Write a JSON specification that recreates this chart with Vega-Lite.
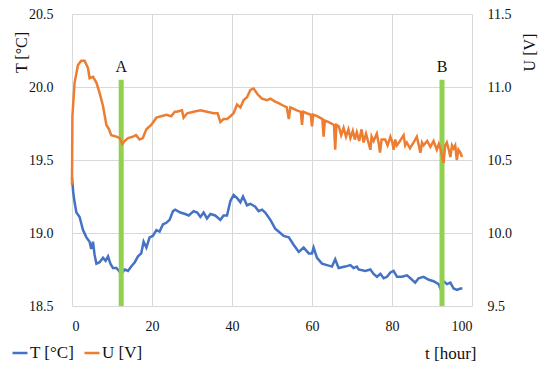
{
  "$schema": "https://vega.github.io/schema/vega-lite/v6.json",
  "width": 400,
  "height": 292,
  "autosize": {"type": "none"},
  "padding": {"left": 72, "top": 14, "right": 78, "bottom": 64},
  "background": "white",
  "config": {
    "view": {"stroke": null},
    "font": "Liberation Serif",
    "axis": {
      "grid": true,
      "gridColor": "#d9d9d9",
      "gridWidth": 1,
      "domain": false,
      "ticks": false,
      "labelFont": "Liberation Serif",
      "labelFontSize": 13,
      "labelColor": "#111",
      "titleFont": "Liberation Serif",
      "titleFontSize": 15,
      "titleFontWeight": "normal",
      "titleColor": "#111"
    },
    "legend": {
      "labelFont": "Liberation Serif",
      "labelFontSize": 17,
      "labelColor": "#111"
    }
  },
  "datasets": {
    "T": [
      {"t": 0, "v": 19.38}, {"t": 0.3, "v": 19.28}, {"t": 0.65, "v": 19.21}, {"t": 1.1, "v": 19.14},
      {"t": 1.9, "v": 19.11}, {"t": 2.75, "v": 19.02}, {"t": 3.6, "v": 18.97}, {"t": 4.4, "v": 18.94},
      {"t": 4.8, "v": 18.89}, {"t": 5.25, "v": 18.94}, {"t": 5.65, "v": 18.85}, {"t": 6.1, "v": 18.79},
      {"t": 6.9, "v": 18.8}, {"t": 7.75, "v": 18.83}, {"t": 8.4, "v": 18.81}, {"t": 9.0, "v": 18.84},
      {"t": 9.6, "v": 18.79}, {"t": 10.25, "v": 18.76}, {"t": 11.1, "v": 18.76}, {"t": 11.75, "v": 18.74},
      {"t": 12.3, "v": 18.72}, {"t": 13.2, "v": 18.75}, {"t": 14.0, "v": 18.74}, {"t": 14.8, "v": 18.77},
      {"t": 15.7, "v": 18.8}, {"t": 16.5, "v": 18.84}, {"t": 17.3, "v": 18.86}, {"t": 17.9, "v": 18.94},
      {"t": 18.6, "v": 18.9}, {"t": 19.4, "v": 18.97}, {"t": 20.2, "v": 18.98}, {"t": 21.1, "v": 19.02},
      {"t": 21.9, "v": 19.01}, {"t": 22.75, "v": 19.06}, {"t": 23.6, "v": 19.07}, {"t": 24.4, "v": 19.09},
      {"t": 25.25, "v": 19.15}, {"t": 25.8, "v": 19.16}, {"t": 27.1, "v": 19.14}, {"t": 28.3, "v": 19.13},
      {"t": 29.2, "v": 19.12}, {"t": 30.4, "v": 19.15}, {"t": 31.3, "v": 19.14}, {"t": 32.1, "v": 19.11},
      {"t": 32.9, "v": 19.14}, {"t": 33.75, "v": 19.1}, {"t": 34.6, "v": 19.13}, {"t": 35.8, "v": 19.12},
      {"t": 37.1, "v": 19.09}, {"t": 37.9, "v": 19.12}, {"t": 38.75, "v": 19.12}, {"t": 39.6, "v": 19.22},
      {"t": 40.4, "v": 19.26}, {"t": 41.25, "v": 19.24}, {"t": 42.1, "v": 19.21}, {"t": 42.75, "v": 19.25},
      {"t": 43.75, "v": 19.19}, {"t": 44.6, "v": 19.2}, {"t": 45.8, "v": 19.18}, {"t": 46.65, "v": 19.15},
      {"t": 47.5, "v": 19.16}, {"t": 48.3, "v": 19.14}, {"t": 49.6, "v": 19.09}, {"t": 50.8, "v": 19.03},
      {"t": 51.65, "v": 19.01}, {"t": 52.9, "v": 18.98}, {"t": 54.2, "v": 18.97}, {"t": 55.4, "v": 18.92},
      {"t": 56.7, "v": 18.87}, {"t": 57.9, "v": 18.9}, {"t": 59.2, "v": 18.86}, {"t": 60.0, "v": 18.86},
      {"t": 60.4, "v": 18.9}, {"t": 61.25, "v": 18.83}, {"t": 62.5, "v": 18.79}, {"t": 63.75, "v": 18.78},
      {"t": 65.0, "v": 18.77}, {"t": 65.8, "v": 18.82}, {"t": 66.65, "v": 18.76}, {"t": 68.3, "v": 18.77},
      {"t": 69.6, "v": 18.78}, {"t": 70.4, "v": 18.76}, {"t": 71.2, "v": 18.77}, {"t": 71.65, "v": 18.75},
      {"t": 73.3, "v": 18.74}, {"t": 74.6, "v": 18.75}, {"t": 75.4, "v": 18.72}, {"t": 76.25, "v": 18.7},
      {"t": 77.1, "v": 18.72}, {"t": 77.9, "v": 18.69}, {"t": 78.75, "v": 18.7}, {"t": 79.6, "v": 18.73},
      {"t": 80.4, "v": 18.74}, {"t": 81.25, "v": 18.7}, {"t": 82.5, "v": 18.7}, {"t": 83.75, "v": 18.71},
      {"t": 84.6, "v": 18.69}, {"t": 85.8, "v": 18.66}, {"t": 86.65, "v": 18.69}, {"t": 87.9, "v": 18.7},
      {"t": 89.2, "v": 18.68}, {"t": 90.4, "v": 18.67}, {"t": 91.65, "v": 18.65}, {"t": 92.1, "v": 18.62},
      {"t": 92.9, "v": 18.67}, {"t": 93.75, "v": 18.65}, {"t": 94.6, "v": 18.66}, {"t": 95.4, "v": 18.62},
      {"t": 96.25, "v": 18.61}, {"t": 97.1, "v": 18.62}, {"t": 97.6, "v": 18.62}
    ],
    "U": [
      {"t": 0, "v": 10.33}, {"t": 0.1, "v": 10.8}, {"t": 0.65, "v": 11.03}, {"t": 1.5, "v": 11.15},
      {"t": 2.3, "v": 11.18}, {"t": 3.15, "v": 11.18}, {"t": 4.0, "v": 11.13}, {"t": 4.4, "v": 11.06},
      {"t": 5.25, "v": 11.07}, {"t": 6.1, "v": 11.03}, {"t": 6.9, "v": 10.96}, {"t": 7.75, "v": 10.87},
      {"t": 8.6, "v": 10.74}, {"t": 9.25, "v": 10.71}, {"t": 9.8, "v": 10.67}, {"t": 11.1, "v": 10.66},
      {"t": 11.9, "v": 10.65}, {"t": 12.6, "v": 10.61}, {"t": 13.15, "v": 10.63}, {"t": 14.0, "v": 10.65},
      {"t": 15.25, "v": 10.66}, {"t": 16.0, "v": 10.67}, {"t": 16.9, "v": 10.64}, {"t": 17.7, "v": 10.65},
      {"t": 18.6, "v": 10.71}, {"t": 19.8, "v": 10.74}, {"t": 21.1, "v": 10.79}, {"t": 22.3, "v": 10.8},
      {"t": 23.6, "v": 10.81}, {"t": 24.8, "v": 10.8}, {"t": 25.7, "v": 10.83}, {"t": 26.2, "v": 10.83},
      {"t": 27.5, "v": 10.84}, {"t": 27.9, "v": 10.79}, {"t": 28.8, "v": 10.82}, {"t": 30.4, "v": 10.83},
      {"t": 32.1, "v": 10.84}, {"t": 33.75, "v": 10.83}, {"t": 35.4, "v": 10.82}, {"t": 36.4, "v": 10.82},
      {"t": 37.1, "v": 10.76}, {"t": 37.9, "v": 10.78}, {"t": 38.75, "v": 10.78}, {"t": 39.6, "v": 10.8},
      {"t": 40.4, "v": 10.82}, {"t": 41.25, "v": 10.88}, {"t": 42.1, "v": 10.86}, {"t": 42.9, "v": 10.91},
      {"t": 43.75, "v": 10.93}, {"t": 44.6, "v": 10.98}, {"t": 45.4, "v": 10.99}, {"t": 46.4, "v": 10.95},
      {"t": 47.5, "v": 10.92}, {"t": 48.75, "v": 10.91}, {"t": 49.6, "v": 10.92}, {"t": 50.8, "v": 10.9},
      {"t": 51.65, "v": 10.89}, {"t": 53.0, "v": 10.87}, {"t": 53.7, "v": 10.86}, {"t": 54.2, "v": 10.78},
      {"t": 54.6, "v": 10.86}, {"t": 56.2, "v": 10.84}, {"t": 57.2, "v": 10.83}, {"t": 57.5, "v": 10.74},
      {"t": 57.8, "v": 10.83}, {"t": 58.7, "v": 10.82}, {"t": 59.7, "v": 10.81}, {"t": 60.0, "v": 10.73},
      {"t": 60.3, "v": 10.81}, {"t": 61.3, "v": 10.8}, {"t": 62.6, "v": 10.78}, {"t": 62.9, "v": 10.66},
      {"t": 63.2, "v": 10.77}, {"t": 64.2, "v": 10.76}, {"t": 65.5, "v": 10.74}, {"t": 65.8, "v": 10.57},
      {"t": 66.1, "v": 10.74}, {"t": 66.7, "v": 10.73}, {"t": 67.3, "v": 10.67}, {"t": 67.9, "v": 10.72},
      {"t": 68.5, "v": 10.66}, {"t": 69.1, "v": 10.71}, {"t": 69.6, "v": 10.65}, {"t": 70.2, "v": 10.7},
      {"t": 70.7, "v": 10.64}, {"t": 71.2, "v": 10.69}, {"t": 71.8, "v": 10.63}, {"t": 72.4, "v": 10.71},
      {"t": 72.9, "v": 10.62}, {"t": 73.5, "v": 10.68}, {"t": 74.0, "v": 10.63}, {"t": 74.6, "v": 10.57},
      {"t": 74.9, "v": 10.66}, {"t": 75.4, "v": 10.63}, {"t": 76.2, "v": 10.68}, {"t": 76.7, "v": 10.61},
      {"t": 77.0, "v": 10.55}, {"t": 77.4, "v": 10.64}, {"t": 78.3, "v": 10.64}, {"t": 78.9, "v": 10.6},
      {"t": 79.6, "v": 10.66}, {"t": 80.1, "v": 10.62}, {"t": 80.4, "v": 10.57}, {"t": 80.8, "v": 10.64},
      {"t": 81.2, "v": 10.6}, {"t": 82.0, "v": 10.63}, {"t": 82.9, "v": 10.67}, {"t": 83.3, "v": 10.6},
      {"t": 83.7, "v": 10.62}, {"t": 84.5, "v": 10.58}, {"t": 85.4, "v": 10.62}, {"t": 86.2, "v": 10.66},
      {"t": 86.7, "v": 10.6}, {"t": 87.1, "v": 10.55}, {"t": 87.5, "v": 10.62}, {"t": 87.9, "v": 10.6},
      {"t": 88.8, "v": 10.63}, {"t": 89.6, "v": 10.59}, {"t": 90.4, "v": 10.63}, {"t": 91.2, "v": 10.57},
      {"t": 91.7, "v": 10.61}, {"t": 92.1, "v": 10.58}, {"t": 92.9, "v": 10.48}, {"t": 93.3, "v": 10.6},
      {"t": 93.7, "v": 10.62}, {"t": 94.2, "v": 10.57}, {"t": 94.6, "v": 10.52}, {"t": 95.0, "v": 10.6},
      {"t": 95.4, "v": 10.58}, {"t": 95.8, "v": 10.6}, {"t": 96.2, "v": 10.5}, {"t": 96.6, "v": 10.57},
      {"t": 97.1, "v": 10.55}, {"t": 97.5, "v": 10.52}
    ],
    "marks": [
      {"t": 12.3, "label": "A"},
      {"t": 92.5, "label": "B"}
    ]
  },
  "encoding": {
    "x": {
      "field": "t",
      "type": "quantitative",
      "scale": {"domain": [0, 100], "nice": false},
      "axis": {
        "values": [0, 20, 40, 60, 80, 100],
        "labelFont": "Liberation Serif",
        "labelFontSize": 14,
        "labelPadding": 13,
        "title": "t [hour]",
        "titleFont": "Liberation Serif",
        "titleFontSize": 17,
        "titleAnchor": "end",
        "titleAlign": "right",
        "titleBaseline": "middle",
        "titleX": 404,
        "titleY": 47
      }
    }
  },
  "layer": [
    {
      "layer": [
        {
          "data": {"name": "T"},
          "mark": {"type": "line", "strokeWidth": 2.5, "interpolate": "linear"},
          "encoding": {
            "y": {
              "field": "v",
              "type": "quantitative",
              "scale": {"domain": [18.5, 20.5], "nice": false, "zero": false},
              "axis": {
                "orient": "left",
                "values": [18.5, 19, 19.5, 20, 20.5],
                "format": ".1f",
                "labelFont": "Liberation Serif",
                "labelFontSize": 14,
                "labelPadding": 19,
                "title": "T [°C]",
                "titleFont": "Liberation Serif",
                "titleFontSize": 16,
                "titleAngle": -90,
                "titleAlign": "center",
                "titleBaseline": "middle",
                "titleX": -51,
                "titleY": 38
              }
            },
            "color": {
              "datum": "T [°C]",
              "type": "nominal",
              "scale": {"domain": ["T [°C]", "U [V]"], "range": ["#4472C4", "#ED7D31"]},
              "legend": {
                "orient": "none",
                "legendX": -61,
                "legendY": 330,
                "direction": "horizontal",
                "title": null,
                "labelFont": "Liberation Serif",
                "labelFontSize": 17,
                "symbolType": "stroke",
                "symbolStrokeWidth": 2.5,
                "symbolSize": 225,
                "labelOffset": 1,
                "columnPadding": 4
              }
            }
          }
        },
        {
          "data": {"name": "marks"},
          "mark": {"type": "rule", "color": "#92D050", "strokeWidth": 5},
          "encoding": {
            "y": {"datum": 18.5, "type": "quantitative", "scale": {"domain": [18.5, 20.5], "nice": false, "zero": false}},
            "y2": {"datum": 20.05}
          }
        },
        {
          "data": {"name": "marks"},
          "mark": {"type": "text", "font": "Liberation Serif", "fontSize": 16, "color": "#111", "baseline": "middle", "align": "center"},
          "encoding": {
            "y": {"datum": 20.14, "type": "quantitative", "scale": {"domain": [18.5, 20.5], "nice": false, "zero": false}},
            "text": {"field": "label"}
          }
        }
      ]
    },
    {
      "data": {"name": "U"},
      "mark": {"type": "line", "strokeWidth": 2.5, "interpolate": "linear"},
      "encoding": {
        "y": {
          "field": "v",
          "type": "quantitative",
          "scale": {"domain": [9.5, 11.5], "nice": false, "zero": false},
          "axis": {
            "orient": "right",
            "values": [9.5, 10, 10.5, 11, 11.5],
            "format": ".1f",
            "grid": false,
            "labelFont": "Liberation Serif",
            "labelFontSize": 14,
            "labelPadding": 15,
            "title": "U [V]",
            "titleFont": "Liberation Serif",
            "titleFontSize": 16,
            "titleAngle": -90,
            "titleAlign": "center",
            "titleBaseline": "middle",
            "titleX": 57,
            "titleY": 38
          }
        },
        "color": {"datum": "U [V]", "type": "nominal"}
      }
    }
  ],
  "resolve": {"scale": {"y": "independent"}}
}
